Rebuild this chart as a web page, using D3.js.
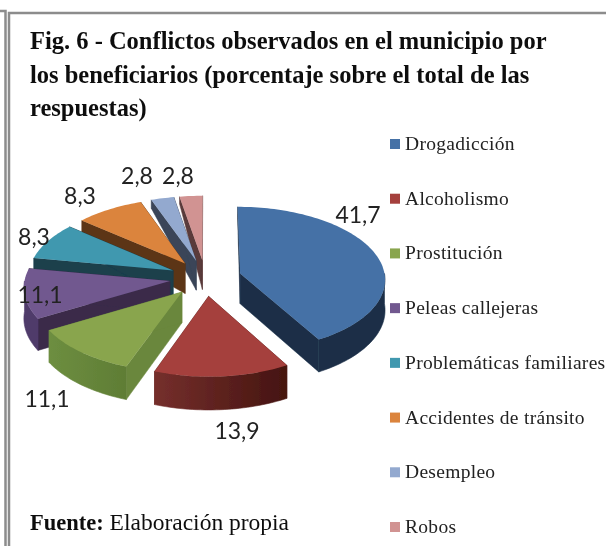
<!DOCTYPE html>
<html><head><meta charset="utf-8">
<script src="https://cdn.jsdelivr.net/npm/d3@7"></script>
<style>html,body{margin:0;padding:0;background:#fff}svg{display:block}</style></head>
<body><svg id="c" width="606" height="546"></svg>
<script>
const categories = ["Drogadicción","Alcoholismo","Prostitución","Peleas callejeras","Problemáticas familiares","Accidentes de tránsito","Desempleo","Robos"];
const values = [41.7,13.9,11.1,11.1,8.3,8.3,2.8,2.8];
const valueLabels = ["41,7","13,9","11,1","11,1","8,3","8,3","2,8","2,8"];
const titleLines = ["Fig. 6 - Conflictos observados en el municipio por","los beneficiarios (porcentaje sobre el total de las","respuestas)"];
const topColors = ["#4471a6","#a5403d","#89a54e","#71588f","#4198af","#db843d","#93a9cf","#d19392"];
const sideColors = ["#1a2e47","#5a1f1c","#6a873c","#3a2a4a","#1b3f4c","#5c3514","#3a4558","#5a3a3a"];
const arcStart = ["#1a2e47","#752f2c","#6d8e40","#4f3a6b","#2a6475","#8a5020","#4a5a78","#7a5050"];
const arcEnd = ["#1a2e47","#451410","#5f7d35","#4f3a6b","#2a6475","#8a5020","#4a5a78","#7a5050"];
const labelCentres = [[358,215],[237,431],[47,399],[40,295],[34,237],[80,196],[137,176],[178,176]];

const cx=205.5, cy=278, R=145, explode=36, tilt=.5, persp=.0005;
const depth = d3.scaleLinear().domain([-160,-30,160]).range([10,30,33]);
const svg = d3.select("#c");
const defs = svg.append("defs");
defs.append("filter").attr("id","soft").attr("x","-5%").attr("y","-5%").attr("width","110%").attr("height","110%")
  .append("feGaussianBlur").attr("stdDeviation",.5);
const root = svg.append("g").attr("filter","url(#soft)");

// frame
const frame = root.append("g").attr("stroke","#8c8c8c").attr("stroke-width",2.5).attr("fill","none");
frame.append("path").attr("d",d3.line()([[9,546],[9,13],[606,13]]));
frame.append("path").attr("d",d3.line()([[0,11],[5.5,11],[5.5,546]]));

const arcs = d3.pie().sort(null).value(d=>d)(values);
function plane(a,r,off){ // a: angle clockwise from north
  const ex=explode*Math.sin(off), ey=-explode*Math.cos(off);
  return [ex+r*Math.sin(a), ey-r*Math.cos(a)];
}
function proj(p,drop){
  const s=1+persp*p[1];
  return [cx+p[0]*s, cy+tilt*p[1]*s+(drop?depth(p[1]):0)];
}
const line=d3.line();
const order=d3.range(values.length).sort((a,b)=>{
  const k=i=>-Math.cos((arcs[i].startAngle+arcs[i].endAngle)/2); return k(a)-k(b);
});
const pie=root.append("g");
order.forEach(i=>{
  const A=arcs[i], mid=(A.startAngle+A.endAngle)/2, n=Math.max(8,Math.ceil((A.endAngle-A.startAngle)*40));
  const angles=d3.range(n+1).map(j=>A.startAngle+(A.endAngle-A.startAngle)*j/n);
  const rim=angles.map(a=>plane(a,R,mid));
  const apex=plane(0,0,mid);
  const g=pie.append("g").attr("class","slice");
  // radial side walls
  [rim[0],rim[n]].forEach(e=>{
    g.append("path").attr("d",line([proj(apex),proj(e),proj(e,1),proj(apex,1)])+"Z").attr("fill",sideColors[i]).attr("stroke",sideColors[i]).attr("stroke-width",.5);
  });
  // outer rim wall: only the part facing the viewer
  const front=angles.map((a,j)=>Math.cos(a)<=0.02?rim[j]:null).filter(Boolean);
  if(front.length>1){
    const top=front.map(p=>proj(p));
    const xs=top.map(p=>p[0]);
    const gid="rim"+i;
    const lg=defs.append("linearGradient").attr("id",gid).attr("gradientUnits","userSpaceOnUse")
      .attr("x1",d3.min(xs)).attr("x2",d3.max(xs)).attr("y1",0).attr("y2",0);
    lg.append("stop").attr("offset",0).attr("stop-color",arcStart[i]);
    lg.append("stop").attr("offset",1).attr("stop-color",arcEnd[i]);
    g.append("path").attr("d",line(top.concat(front.map(p=>proj(p,1)).reverse()))+"Z")
      .attr("fill",`url(#${gid})`).attr("stroke",`url(#${gid})`).attr("stroke-width",.6);
  }
  // top
  g.append("path").attr("d",line([proj(apex),...rim.map(p=>proj(p))])+"Z").attr("fill",topColors[i]);
});

// data labels
root.append("g").selectAll("text").data(valueLabels).join("text")
  .attr("x",(d,i)=>labelCentres[i][0]).attr("y",(d,i)=>labelCentres[i][1]+8)
  .attr("text-anchor","middle").attr("font-family","Lato").attr("font-size",23).attr("fill","#222").text(d=>d);

// title
root.append("g").selectAll("text").data(titleLines).join("text")
  .attr("x",30).attr("y",(d,i)=>49+i*33.5)
  .attr("font-family","Liberation Serif").attr("font-weight","bold").attr("font-size",24.5).attr("fill","#111").text(d=>d);

// legend
const ly=d3.scalePoint().domain(categories).range([144,527]);
const leg=root.append("g").selectAll("g").data(categories).join("g").attr("transform",d=>`translate(0,${ly(d)})`);
leg.append("rect").attr("x",390).attr("y",-5).attr("width",10).attr("height",10).attr("fill",(d,i)=>topColors[i]);
leg.append("text").attr("x",405).attr("y",6).attr("font-family","Liberation Serif").attr("font-size",19.5).attr("letter-spacing",.3).attr("fill","#222").text(d=>d);

// source
const src=root.append("text").attr("x",30).attr("y",530).attr("font-family","Liberation Serif").attr("font-size",22.5).attr("fill","#111");
src.append("tspan").attr("font-weight","bold").text("Fuente:");
src.append("tspan").attr("font-size",23.5).text(" Elaboración propia");
</script></body></html>
